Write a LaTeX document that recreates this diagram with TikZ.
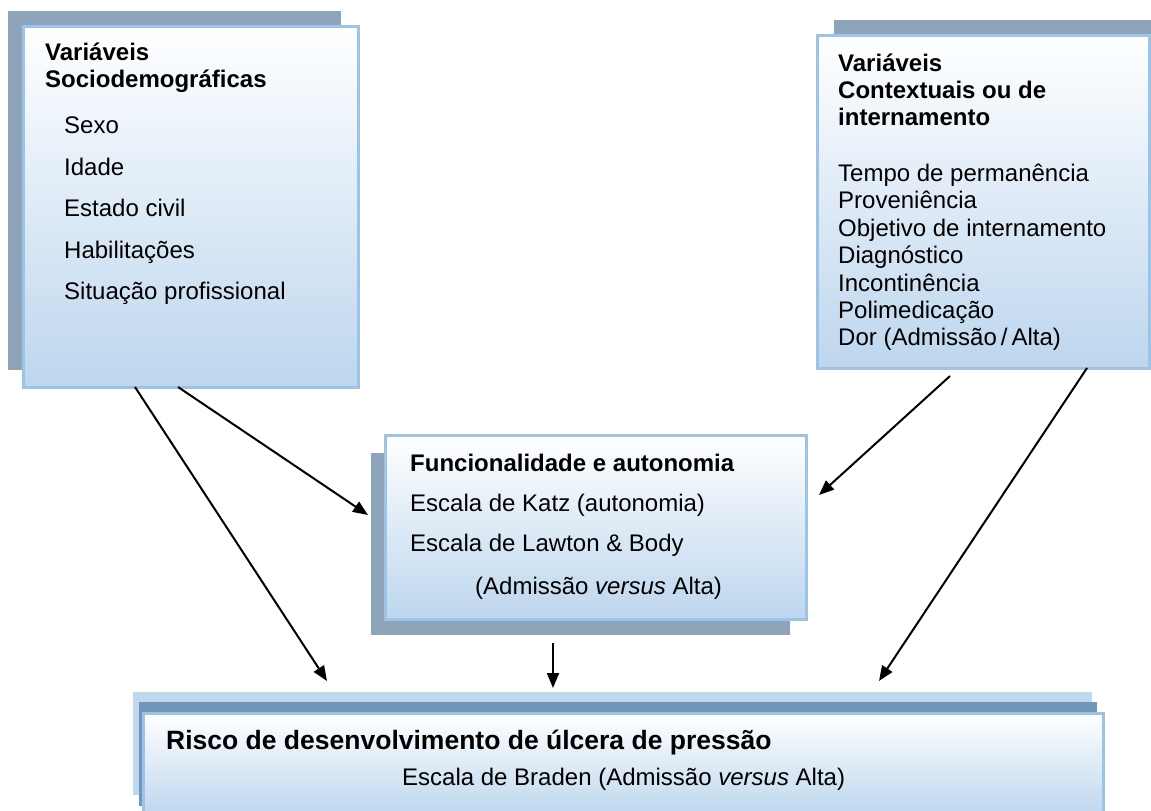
\documentclass[tikz,border=0pt]{standalone}
\usepackage{fontspec}
\setmainfont{Liberation Sans}
\usetikzlibrary{arrows.meta}
\definecolor{shadowgray}{HTML}{8DA4BA}
\definecolor{borderblue}{HTML}{9DC3E6}
\definecolor{boxblue}{HTML}{BDD6EE}
\definecolor{lightbar}{HTML}{C0D8EE}
\definecolor{darkbar}{HTML}{7096BA}
\tikzset{
  shadowbox/.style={rectangle, draw=none, fill=shadowgray, inner sep=0pt, outer sep=0pt, anchor=north west},
  frontbox/.style={rectangle, draw=borderblue, line width=3pt, top color=white, bottom color=boxblue, inner sep=0pt, outer sep=0pt, anchor=north west},
  barbox/.style={rectangle, draw=none, inner sep=0pt, outer sep=0pt, anchor=north west},
  txt/.style={anchor=base west, inner sep=0pt, font=\fontsize{24}{28}\selectfont},
  ttl/.style={txt, font=\fontsize{24}{28}\selectfont\bfseries},
  bigttl/.style={txt, font=\fontsize{26.5}{30}\selectfont\bfseries},
  arr/.style={-{Triangle[length=15pt,width=12pt]}, line width=2pt, black}
}
\begin{document}
\begin{tikzpicture}[x=1pt,y=-1pt]
\useasboundingbox (0,0) rectangle (1151,811);
\clip (0,0) rectangle (1151,811);
% left box
\node[shadowbox, minimum width=333pt, minimum height=359pt] (leftsh) at (8,11) {};
\node[frontbox, minimum width=335pt, minimum height=361pt] (left) at (23,26) {};
\node[ttl] (l1) at (45,60) {Variáveis};
\node[ttl] (l2) at (45,87) {Sociodemográficas};
\node[txt] (l3) at (64,133) {Sexo};
\node[txt] (l4) at (64,175) {Idade};
\node[txt] (l5) at (64,216) {Estado civil};
\node[txt] (l6) at (64,258) {Habilitações};
\node[txt] (l7) at (64,299) {Situação profissional};
% right box
\node[shadowbox, minimum width=332pt, minimum height=333pt] (rightsh) at (834,20) {};
\node[frontbox, minimum width=332pt, minimum height=333pt] (right) at (817,35) {};
\node[ttl] (r1) at (838,71) {Variáveis};
\node[ttl] (r2) at (838,98) {Contextuais ou de};
\node[ttl] (r3) at (838,125) {internamento};
\node[txt] (r4) at (838,181) {Tempo de permanência};
\node[txt] (r5) at (838,208) {Proveniência};
\node[txt] (r6) at (838,236) {Objetivo de internamento};
\node[txt] (r7) at (838,263) {Diagnóstico};
\node[txt] (r8) at (838,291) {Incontinência};
\node[txt] (r9) at (838,318) {Polimedicação};
\node[txt] (r10) at (838,345) {Dor (Admissão\,/\,Alta)};
% middle box
\node[shadowbox, minimum width=419pt, minimum height=182pt] (midsh) at (371,453) {};
\node[frontbox, minimum width=421pt, minimum height=184pt] (mid) at (385,435) {};
\node[ttl] (m1) at (410,471) {Funcionalidade e autonomia};
\node[txt] (m2) at (410,511) {Escala de Katz (autonomia)};
\node[txt] (m3) at (410,551) {Escala de Lawton \& Body};
\node[txt] (m4) at (475,594) {(Admissão \textit{versus} Alta)};
% bottom box
\node[barbox, fill=lightbar, minimum width=959pt, minimum height=103pt] (botlight) at (133,692) {};
\node[barbox, fill=darkbar, minimum width=958pt, minimum height=104pt] (botdark) at (139,702) {};
\node[frontbox, minimum width=960pt, minimum height=103pt] (bot) at (143,713) {};
\node[bigttl] (b1) at (166,749) {Risco de desenvolvimento de úlcera de pressão};
\node[txt] (b2) at (402,785) {Escala de Braden (Admissão \textit{versus} Alta)};
% arrows
\draw[arr] ([xshift=112pt]left.south west) -- ([xshift=194pt,yshift=11pt]botlight.north west);
\draw[arr] ([xshift=155pt]left.south west) -- ([xshift=-17pt,yshift=-80pt]mid.north west);
\draw[arr] ([xshift=133pt,yshift=-8pt]right.south west) -- ([xshift=13pt,yshift=-60pt]mid.north east);
\draw[arr] ([xshift=270pt]right.south west) -- ([xshift=746pt,yshift=11pt]botlight.north west);
\draw[arr] ([xshift=182pt,yshift=-8pt]midsh.south west) -- ([xshift=420pt,yshift=4pt]botlight.north west);
\end{tikzpicture}
\end{document}
